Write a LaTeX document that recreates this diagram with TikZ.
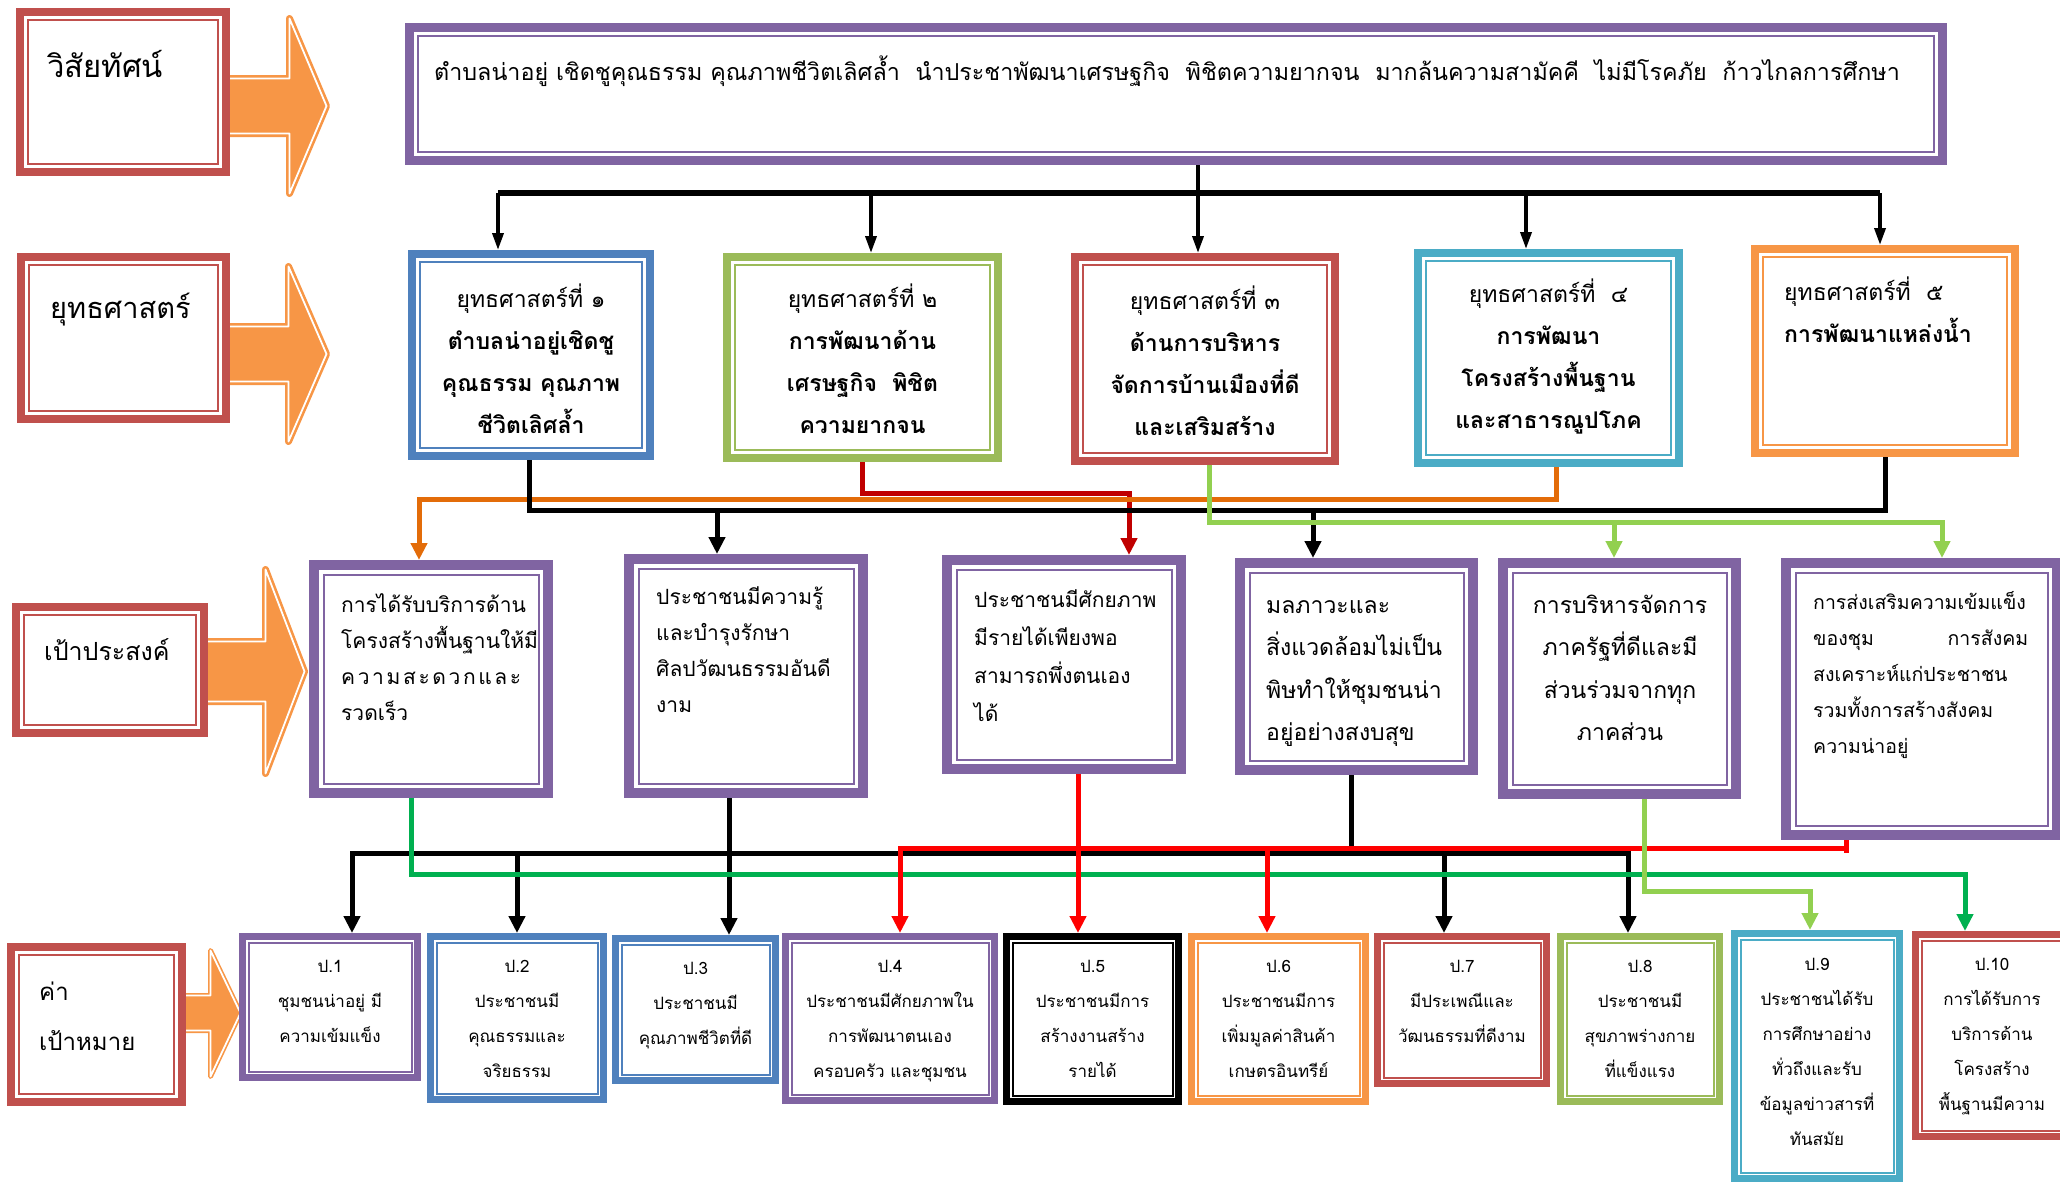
\documentclass[tikz,border=0pt]{standalone}
\usepackage{fontspec}
\setmainfont[Script=Thai]{Loma}
\usetikzlibrary{arrows.meta}

\definecolor{lred}{HTML}{C0504D}
\definecolor{lpurple}{HTML}{8064A2}
\definecolor{lblue}{HTML}{4F81BD}
\definecolor{lgreen}{HTML}{9BBB59}
\definecolor{lteal}{HTML}{4BACC6}
\definecolor{lorange}{HTML}{F79646}
\definecolor{corange}{HTML}{E36C09}
\definecolor{cdred}{HTML}{C00000}
\definecolor{clgreen}{HTML}{92D050}
\definecolor{cgreen}{HTML}{00B050}
\definecolor{cred}{HTML}{FF0000}

\tikzset{
  twoline/.style 2 args={draw=#1, fill=white, inner sep=0pt, path picture={
      \draw[#1, line width=2pt]
        ([shift={(#2,-#2)}]path picture bounding box.north west) rectangle
        ([shift={(-#2,#2)}]path picture bounding box.south east);}},
  labelbox/.style={twoline={lred}{8pt}, line width=8pt},
  visionbox/.style={twoline={lpurple}{8.5pt}, line width=9pt},
  stratbox/.style={twoline={#1}{8pt}, line width=8pt},
  goalbox/.style={twoline={lpurple}{9.5pt}, line width=10pt},
  targetbox/.style={twoline={#1}{6pt}, line width=7pt},
  blockarrow/.style={fill=lorange, draw=lorange, line width=7pt, line join=round,
    postaction={draw=white, line width=1.8pt}},
  labeltext/.style={anchor=base west, inner sep=0pt},
  stext/.style={anchor=base, inner sep=0pt, text width=250pt, align=center,
    font=\fontsize{23}{42}\selectfont},
  gtext/.style={anchor=base west, inner sep=0pt, text width=#1, align=left},
  ptext/.style={anchor=base, inner sep=0pt, text width=180pt, align=center,
    font=\fontsize{17}{35}\selectfont},
  conn/.style={line width=5pt},
  tip/.style={-{Triangle[length=17pt,width=16pt]}},
  tips/.style={{Triangle[length=17pt,width=16pt]}-{Triangle[length=17pt,width=16pt]}},
  toptip/.style={line width=3.5pt, -{Triangle[length=17pt,width=11pt]}},
}

\begin{document}
\begin{tikzpicture}[x=1pt, y=-1pt]
\useasboundingbox (0,0) rectangle (2060,1183);
\clip (0,0) rectangle (2060,1183);

% block arrows on the left
\filldraw[blockarrow] (228,78.5) -- (289.5,78.5) -- (289.5,18.5) -- (326.5,106) -- (289.5,193.5) -- (289.5,133.5) -- (228,133.5) -- cycle;
\filldraw[blockarrow] (228,326.5) -- (288.5,326.5) -- (288.5,266.5) -- (326.5,354) -- (288.5,441.5) -- (288.5,381.5) -- (228,381.5) -- cycle;
\filldraw[blockarrow] (205,641.5) -- (265.5,641.5) -- (265.5,569.5) -- (304.5,671.5) -- (265.5,773.5) -- (265.5,701.5) -- (205,701.5) -- cycle;
\filldraw[blockarrow, line width=5pt] (184,995.5) -- (210.5,995.5) -- (210.5,950.5) -- (240.5,1013) -- (210.5,1076.5) -- (210.5,1030.5) -- (184,1030.5) -- cycle;

% row labels
\node[labelbox, minimum width=206pt, minimum height=160pt] (l1) at (123,92) {};
\node[labelbox, minimum width=205pt, minimum height=162pt] (l2) at (123.5,338) {};
\node[labelbox, minimum width=188pt, minimum height=126pt] (l3) at (110,670) {};
\node[labelbox, minimum width=171pt, minimum height=155pt] (l4) at (96.5,1024.5) {};
\node[labeltext, font=\fontsize{31}{36}\selectfont] (l1t) at (47,77) {วิสัยทัศน์};
\node[labeltext, font=\fontsize{29}{36}\selectfont] (l2t) at (50,318) {ยุทธศาสตร์};
\node[labeltext, font=\fontsize{25}{36}\selectfont] (l3t) at (44,660) {เป้าประสงค์};
\node[labeltext, text width=130pt, align=left, font=\fontsize{24}{50}\selectfont] (l4t) at (39,1000) {ค่า\\เป้าหมาย};

% vision
\node[visionbox, minimum width=1533pt, minimum height=133pt] (v) at (1176,94) {};
\node[labeltext, font=\fontsize{23.3}{30}\selectfont] (vt) at (434,80)
  {ตำบลน่าอยู่ เชิดชูคุณธรรม คุณภาพชีวิตเลิศล้ำ~~นำประชาพัฒนาเศรษฐกิจ~~พิชิตความยากจน~~มากล้นความสามัคคี~~ไม่มีโรคภัย~~ก้าวไกลการศึกษา};

% strategies
\node[stratbox=lblue, minimum width=238pt, minimum height=202pt] (s1) at (531,355) {};
\node[stratbox=lgreen, minimum width=271pt, minimum height=201pt] (s2) at (862.5,357.5) {};
\node[stratbox=lred, minimum width=260pt, minimum height=204pt] (s3) at (1205,359) {};
\node[stratbox=lteal, minimum width=261pt, minimum height=210pt] (s4) at (1548.5,358) {};
\node[stratbox=lorange, minimum width=260pt, minimum height=204pt] (s5) at (1885,351) {};
\node[stext] (s1t) at (531,307) {ยุทธศาสตร์ที่ ๑\\\bfseries ตำบลน่าอยู่เชิดชู\\คุณธรรม คุณภาพ\\ชีวิตเลิศล้ำ};
\node[stext] (s2t) at (862.5,307) {ยุทธศาสตร์ที่ ๒\\\bfseries การพัฒนาด้าน\\เศรษฐกิจ~~พิชิต\\ความยากจน};
\node[stext] (s3t) at (1205,309) {ยุทธศาสตร์ที่ ๓\\\bfseries ด้านการบริหาร\\จัดการบ้านเมืองที่ดี\\และเสริมสร้าง};
\node[stext] (s4t) at (1548.5,302) {ยุทธศาสตร์ที่~~๔\\\bfseries การพัฒนา\\โครงสร้างพื้นฐาน\\และสาธารณูปโภค};
\node[stext, anchor=base west, align=left] (s5t) at (1784,300) {ยุทธศาสตร์ที่~~๕\\\bfseries การพัฒนาแหล่งน้ำ};

% goals
\node[goalbox, minimum width=234pt, minimum height=228pt] (g1) at (431,679) {};
\node[goalbox, minimum width=234pt, minimum height=234pt] (g2) at (746,676) {};
\node[goalbox, minimum width=234pt, minimum height=209pt] (g3) at (1064,664.5) {};
\node[goalbox, minimum width=233pt, minimum height=207pt] (g4) at (1356.5,666.5) {};
\node[goalbox, minimum width=233pt, minimum height=231pt] (g5) at (1619.5,678.5) {};
\node[goalbox, minimum width=271pt, minimum height=272pt] (g6) at (1921.5,699) {};
\node[gtext=180pt, font=\fontsize{21}{36}\selectfont] (g1t) at (341,612)
  {การได้รับบริการด้าน\\โครงสร้างพื้นฐานให้มี\\\makebox[\linewidth][s]{ค\hfil ว\hfil า\hfil ม\hfil ส\hfil ะ\hfil ด\hfil ว\hfil ก\hfil แ\hfil ล\hfil ะ}\\รวดเร็ว};
\node[gtext=190pt, font=\fontsize{21}{36}\selectfont] (g2t) at (656,604)
  {ประชาชนมีความรู้\\และบำรุงรักษา\\ศิลปวัฒนธรรมอันดี\\งาม};
\node[gtext=190pt, font=\fontsize{21}{38}\selectfont] (g3t) at (974,607)
  {ประชาชนมีศักยภาพ\\มีรายได้เพียงพอ\\สามารถพึ่งตนเอง\\ได้};
\node[gtext=190pt, font=\fontsize{23}{42.5}\selectfont] (g4t) at (1266,613)
  {มลภาวะและ\\สิ่งแวดล้อมไม่เป็น\\พิษทำให้ชุมชนน่า\\อยู่อย่างสงบสุข};
\node[gtext=200pt, anchor=base, align=center, font=\fontsize{23}{42.5}\selectfont] (g5t) at (1620,613)
  {การบริหารจัดการ\\ภาครัฐที่ดีและมี\\ส่วนร่วมจากทุก\\ภาคส่วน};
\node[gtext=215pt, font=\fontsize{19.5}{36}\selectfont] (g6t) at (1813,609)
  {การส่งเสริมความเข้มแข็ง\\\makebox[\linewidth][s]{ของชุม\hfill การสังคม}\\สงเคราะห์แก่ประชาชน\\รวมทั้งการสร้างสังคม\\ความน่าอยู่};

% targets
\node[targetbox=lpurple, minimum width=175pt, minimum height=141pt] (p1) at (330,1007) {};
\node[targetbox=lblue, minimum width=173pt, minimum height=163pt] (p2) at (517,1018) {};
\node[targetbox=lblue, minimum width=160pt, minimum height=142pt] (p3) at (695.5,1009.5) {};
\node[targetbox=lpurple, minimum width=209pt, minimum height=164pt] (p4) at (890,1018.5) {};
\node[targetbox=black, minimum width=172pt, minimum height=165pt] (p5) at (1092.5,1019) {};
\node[targetbox=lorange, minimum width=174pt, minimum height=165pt] (p6) at (1278.5,1019) {};
\node[targetbox=lred, minimum width=169pt, minimum height=147pt] (p7) at (1462,1010) {};
\node[targetbox=lgreen, minimum width=159pt, minimum height=165pt] (p8) at (1640,1019) {};
\node[targetbox=lteal, minimum width=165pt, minimum height=245pt] (p9) at (1817,1056) {};
\node[targetbox=lred, minimum width=151pt, minimum height=202pt] (p10) at (1991,1035.5) {};
\node[ptext] (p1t) at (330,972) {ป.1\\ชุมชนน่าอยู่ มี\\ความเข้มแข็ง};
\node[ptext] (p2t) at (517,972) {ป.2\\ประชาชนมี\\คุณธรรมและ\\จริยธรรม};
\node[ptext] (p3t) at (695.5,974) {ป.3\\ประชาชนมี\\คุณภาพชีวิตที่ดี};
\node[ptext] (p4t) at (890,972) {ป.4\\ประชาชนมีศักยภาพใน\\การพัฒนาตนเอง\\ครอบครัว และชุมชน};
\node[ptext] (p5t) at (1092.5,972) {ป.5\\ประชาชนมีการ\\สร้างงานสร้าง\\รายได้};
\node[ptext] (p6t) at (1278.5,972) {ป.6\\ประชาชนมีการ\\เพิ่มมูลค่าสินค้า\\เกษตรอินทรีย์};
\node[ptext] (p7t) at (1462,972) {ป.7\\มีประเพณีและ\\วัฒนธรรมที่ดีงาม};
\node[ptext] (p8t) at (1640,972) {ป.8\\ประชาชนมี\\สุขภาพร่างกาย\\ที่แข็งแรง};
\node[ptext] (p9t) at (1817,970) {ป.9\\ประชาชนได้รับ\\การศึกษาอย่าง\\ทั่วถึงและรับ\\ข้อมูลข่าวสารที่\\ทันสมัย};
\node[ptext] (p10t) at (1992,970) {ป.10\\การได้รับการ\\บริการด้าน\\โครงสร้าง\\พื้นฐานมีความ};

% levels of the horizontal runs
\coordinate (tb) at (0,193);
\coordinate (mr) at (0,493);
\coordinate (mo) at (0,499);
\coordinate (mk) at (0,510);
\coordinate (mg) at (0,522);
\coordinate (lr) at (0,848);
\coordinate (lk) at (0,853);
\coordinate (lg) at (0,874);
\coordinate (ll) at (0,891);

% vision -> strategies
\coordinate (vout) at ([xshift=22pt]v.south);
\coordinate (s1in) at ([xshift=-33pt]s1.north);
\coordinate (s2in) at ([xshift=8.5pt]s2.north);
\coordinate (s3in) at ([xshift=-7pt]s3.north);
\coordinate (s4in) at ([xshift=-22.5pt]s4.north);
\coordinate (s5in) at ([xshift=-5pt]s5.north);
\draw[line width=3.5pt] (vout) -- (vout |- tb);
\draw[line width=6pt] (s1in |- tb) -- (s5in |- tb);
\draw[toptip] (s1in |- tb) -- (s1in);
\draw[toptip] (s2in |- tb) -- (s2in);
\draw[toptip] (s3in |- tb) -- (s3in);
\draw[toptip] (s4in |- tb) -- (s4in);
\draw[toptip] (s5in |- tb) -- (s5in);

% strategies -> goals
\coordinate (s1out) at ([xshift=-2pt]s1.south);
\coordinate (s3out) at ([xshift=4pt]s3.south);
\coordinate (s4out) at ([xshift=7.5pt]s4.south);
\coordinate (g1in) at ([xshift=-12pt]g1.north);
\coordinate (g2in) at ([xshift=-29pt]g2.north);
\coordinate (g3in) at ([xshift=65pt]g3.north);
\coordinate (g4in) at ([xshift=-43.5pt]g4.north);
\coordinate (g5in) at ([xshift=-5.5pt]g5.north);
\coordinate (g6in) at ([xshift=20.5pt]g6.north);
\draw[conn, cdred, tip] (s2.south) |- (g3in |- mr) -- (g3in);
\draw[conn, corange, tip] (s4out) |- (g1in |- mo) -- (g1in);
\draw[conn] (s1out) |- (s5.south |- mk) -- (s5.south);
\draw[conn, tip] (g2in |- mk) -- (g2in);
\draw[conn, tip] (g4in |- mk) -- (g4in);
\draw[conn, clgreen, tip] (s3out) |- (g6in |- mg) -- (g6in);
\draw[conn, clgreen, tip] (g5in |- mg) -- (g5in);

% goals -> targets
\coordinate (g1out) at ([xshift=-20pt]g1.south);
\coordinate (g2out) at ([xshift=-17pt]g2.south);
\coordinate (g3out) at ([xshift=14pt]g3.south);
\coordinate (g4out) at ([xshift=-5.5pt]g4.south);
\coordinate (g5out) at ([xshift=24.5pt]g5.south);
\coordinate (g6out) at ([xshift=-75.5pt]g6.south);
\coordinate (p1in) at ([xshift=22pt]p1.north);
\coordinate (p4in) at ([xshift=10pt]p4.north);
\coordinate (p6in) at ([xshift=-11.5pt]p6.north);
\coordinate (p7in) at ([xshift=-18pt]p7.north);
\coordinate (p8in) at ([xshift=-12pt]p8.north);
\coordinate (p9in) at ([xshift=-7pt]p9.north);
\coordinate (p10in) at ([xshift=-26pt]p10.north);
\draw[conn, tips] (p1in) |- (p8in |- lk) -- (p8in);
\draw[conn, tip] (p2.north |- lk) -- (p2.north);
\draw[conn, tip] (g2out) -- (g2out |- p3.north);
\draw[conn, tip] (p7in |- lk) -- (p7in);
\draw[conn] (g4out) -- (g4out |- lk);
\draw[conn, cgreen, tip] (g1out) |- (p10in |- lg) -- (p10in);
\draw[conn, cred, tip] (g3out) -- (g3out |- p5.north);
\draw[conn, cred] (g6out) -- (g6out |- lk);
\draw[conn, cred, tip] (g6out |- lr) -| (p4in);
\draw[conn, cred, tip] (p6in |- lr) -- (p6in);
\draw[conn, clgreen, tip] (g5out) |- (p9in |- ll) -- (p9in);
\end{tikzpicture}
\end{document}
